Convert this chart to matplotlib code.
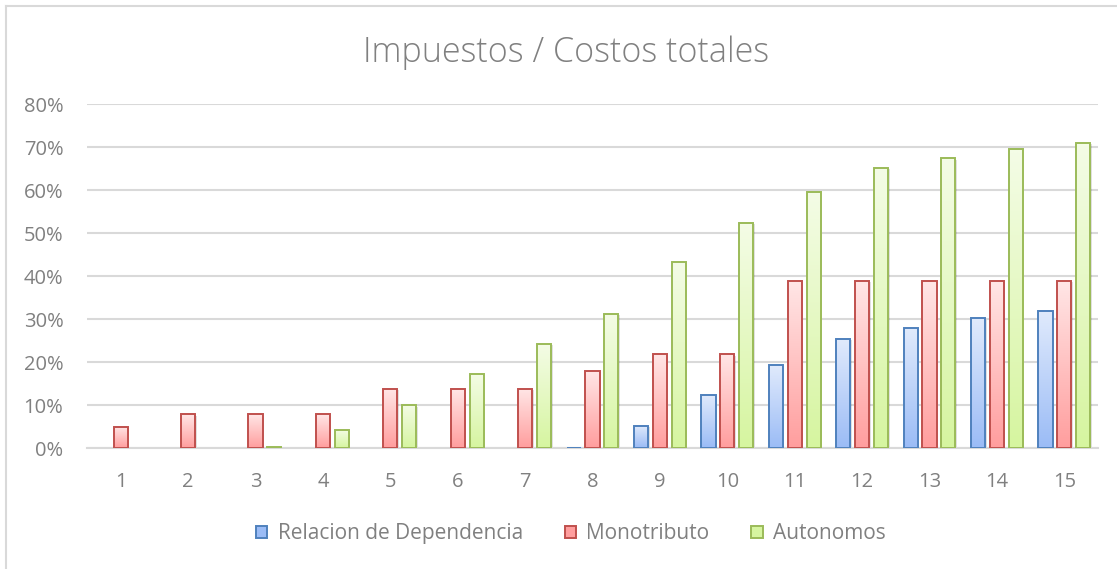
import matplotlib
matplotlib.use("Agg")
import matplotlib.pyplot as plt
import matplotlib.transforms as mtransforms
from matplotlib.lines import Line2D
from matplotlib.patches import Patch
from matplotlib.colors import LinearSegmentedColormap
import numpy as np

# ---- data ----
categories = list(range(1, 16))
relacion = [0, 0, 0, 0, 0, 0, 0, 0.1, 5.2, 12.5, 19.3, 25.5, 27.9, 30.2, 31.9]
monotributo = [5.0, 7.9, 7.9, 7.9, 13.8, 13.8, 13.8, 18.0, 21.9, 21.9, 39.0, 39.0, 39.0, 39.0, 39.0]
autonomos = [0, 0, 0.3, 4.2, 10.0, 17.3, 24.3, 31.3, 43.3, 52.4, 59.6, 65.3, 67.5, 69.5, 71.0]
series_names = ["Relacion de Dependencia", "Monotributo", "Autonomos"]

# edge colour, gradient top, gradient bottom
STYLES = [
    ("#4F81BD", "#E0EAFC", "#9BBCF6"),
    ("#C0504D", "#FFE6E6", "#FF9E9E"),
    ("#9BBB59", "#F4FCE6", "#D6F5A0"),
]
TXT = "#808080"
GRID = "#D9D9D9"
FONT = "Open Sans"

fig = plt.figure(figsize=(11.17, 5.69), dpi=100)
fig.patch.set_facecolor("white")
ax = fig.add_axes([0.0779, 0.2121, 0.9051, 0.6046])

x = np.arange(len(categories))
offsets = [-0.28, 0.0, 0.28]
width = 0.21

for vals, off, (edge, top, bot) in zip([relacion, monotributo, autonomos], offsets, STYLES):
    bars = ax.bar(x + off, np.array(vals) / 100, width, facecolor="none",
                  edgecolor=edge, linewidth=1.4, zorder=4)
    cmap = LinearSegmentedColormap.from_list("g", [bot, top])
    grad = np.linspace(0, 1, 64).reshape(-1, 1)
    shadow_tr = mtransforms.offset_copy(ax.transData, fig=fig, x=1.5, y=-1.5, units="dots")
    for b in bars:
        h = b.get_height()
        if h <= 0:
            b.set_visible(False)
            continue
        x0 = b.get_x()
        ax.imshow(grad, cmap=cmap, origin="lower", aspect="auto", zorder=3,
                  extent=[x0, x0 + b.get_width(), 0, h], interpolation="bilinear")
        ax.add_patch(plt.Rectangle((x0, 0), b.get_width(), h, transform=shadow_tr,
                                   facecolor="#000000", alpha=0.12, edgecolor="none",
                                   zorder=2))

ax.set_xlim(-0.5, len(categories) - 0.5)
ax.set_ylim(0, 0.8)
ax.set_yticks(np.arange(0, 0.81, 0.1))
ax.set_yticklabels([f"{int(round(v*100))}%" for v in np.arange(0, 0.81, 0.1)])
ax.set_xticks(x)
ax.set_xticklabels([str(c) for c in categories])
ax.yaxis.grid(True, color=GRID, linewidth=1.5, zorder=0)
ax.set_axisbelow(True)
for s in ["top", "right", "left"]:
    ax.spines[s].set_visible(False)
ax.spines["bottom"].set_color(GRID)
ax.spines["bottom"].set_linewidth(1.5)
ax.tick_params(axis="both", length=0, labelsize=14.5, labelcolor=TXT)
ax.tick_params(axis="x", pad=17)
ax.tick_params(axis="y", pad=17)
for lab in ax.get_xticklabels() + ax.get_yticklabels():
    lab.set_family(FONT)

fig.text(0.507, 0.908, "Impuestos / Costos totales", ha="center", va="center",
         fontsize=24.5, color=TXT, family=FONT, fontweight="light")

handles = [Patch(facecolor=c[2], edgecolor=c[0], linewidth=1.4) for c in STYLES]
leg = fig.legend(handles, series_names, loc="center", bbox_to_anchor=(0.511, 0.062),
                 ncol=3, frameon=False, handlelength=0.55, handleheight=0.55,
                 handletextpad=0.5, columnspacing=2.0,
                 prop={"family": FONT, "size": 15})
for t in leg.get_texts():
    t.set_color(TXT)

# chart frame (only top and left edges are visible in the crop)
fig.add_artist(Line2D([6 / 1117, 6 / 1117], [0, 1 - 6 / 569], color=GRID, lw=1.5))
fig.add_artist(Line2D([6 / 1117, 1], [1 - 6 / 569, 1 - 6 / 569], color=GRID, lw=1.5))

fig.savefig("out.png", dpi=100, facecolor="white")
